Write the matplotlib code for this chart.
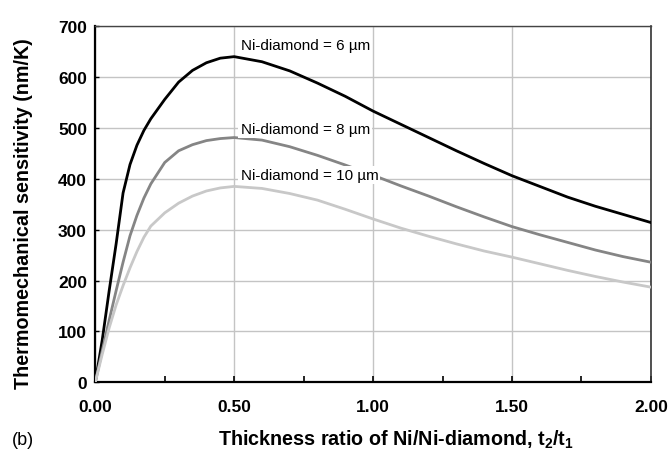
import matplotlib
matplotlib.use("Agg")
import matplotlib.pyplot as plt

plt.rcParams['font.family'] = ['Liberation Sans', 'DejaVu Sans']
plt.rcParams['mathtext.fontset'] = 'custom'
plt.rcParams['mathtext.rm'] = 'Liberation Sans:bold'
plt.rcParams['mathtext.it'] = 'Liberation Sans:bold'
plt.rcParams['mathtext.bf'] = 'Liberation Sans:bold'

# thickness ratio t2/t1
ratio = [0, 0.025, 0.05, 0.075, 0.1, 0.125, 0.15, 0.175, 0.2, 0.25, 0.3, 0.35, 0.4, 0.45, 0.5,
         0.6, 0.7, 0.8, 0.9, 1.0, 1.1, 1.2, 1.3, 1.4, 1.5, 1.6, 1.7, 1.8, 1.9, 2.0]

# thermomechanical sensitivity (nm/K)
sens_6um = [0, 83, 180, 272, 372, 428, 466, 495, 518, 556, 590, 613, 628, 637, 640,
            630, 612, 588, 562, 533, 507, 481, 455, 430, 406, 385, 364, 346, 330, 314]
sens_8um = [0, 62, 122, 180, 236, 288, 328, 362, 390, 432, 455, 467, 475, 479, 481,
            476, 463, 446, 427, 407, 386, 366, 345, 325, 306, 290, 275, 260, 247, 236]
sens_10um = [0, 55, 107, 152, 190, 225, 257, 285, 307, 333, 352, 366, 376, 382, 385,
             381, 371, 358, 340, 321, 303, 287, 272, 258, 246, 233, 220, 208, 197, 187]

labels = ['Ni-diamond = 6 µm', 'Ni-diamond = 8 µm', 'Ni-diamond = 10 µm']
label_x = [0.523, 0.523, 0.523]
label_y = [663, 498, 407]
colors = ['#000000', '#858585', '#c8c8c8']

fig = plt.figure(figsize=(6.71, 4.52), dpi=100)
ax = fig.add_axes([0.142, 0.152, 0.828, 0.788])

for ys, c in zip([sens_6um, sens_8um, sens_10um], colors):
    ax.plot(ratio, ys, color=c, lw=2.0, zorder=3)

for lab, lx, ly in zip(labels, label_x, label_y):
    ax.text(lx, ly, lab, fontsize=11, va='center', ha='left', zorder=4,
            bbox=dict(facecolor='white', edgecolor='none', pad=1.5))

ax.set_xlim(0, 2.0)
ax.set_ylim(0, 700)
ax.set_xticks([0, 0.5, 1.0, 1.5, 2.0])
ax.set_xticks([0.25, 0.75, 1.25, 1.75], minor=True)
ax.set_xticklabels(['0.00', '0.50', '1.00', '1.50', '2.00'])
ax.set_yticks(range(0, 701, 100))
ax.grid(True, color='#c4c4c4', lw=1.0, zorder=0)
ax.set_axisbelow(True)

ax.tick_params(axis='x', which='both', direction='in', length=4, width=1.2,
               pad=12, labelsize=12.5)
ax.tick_params(axis='y', direction='in', length=3, width=1.0, pad=6, labelsize=12.5)
for t in ax.get_xticklabels() + ax.get_yticklabels():
    t.set_fontweight('bold')

ax.spines['left'].set_linewidth(1.6)
ax.spines['bottom'].set_linewidth(1.6)
ax.spines['top'].set_color('#444444')
ax.spines['right'].set_color('#333333')
ax.spines['top'].set_linewidth(1.0)
ax.spines['right'].set_linewidth(1.2)

fig.text(0.035, 0.528, 'Thermomechanical sensitivity (nm/K)', rotation=90,
         fontsize=14.2, fontweight='bold', ha='center', va='center')
fig.text(0.590, 0.027, 'Thickness ratio of Ni/Ni-diamond, t$_2$/t$_1$',
         fontsize=14.2, fontweight='bold', ha='center', va='center')
fig.text(0.017, 0.025, '(b)', fontsize=13, ha='left', va='center')

fig.savefig('out.png', dpi=100)
